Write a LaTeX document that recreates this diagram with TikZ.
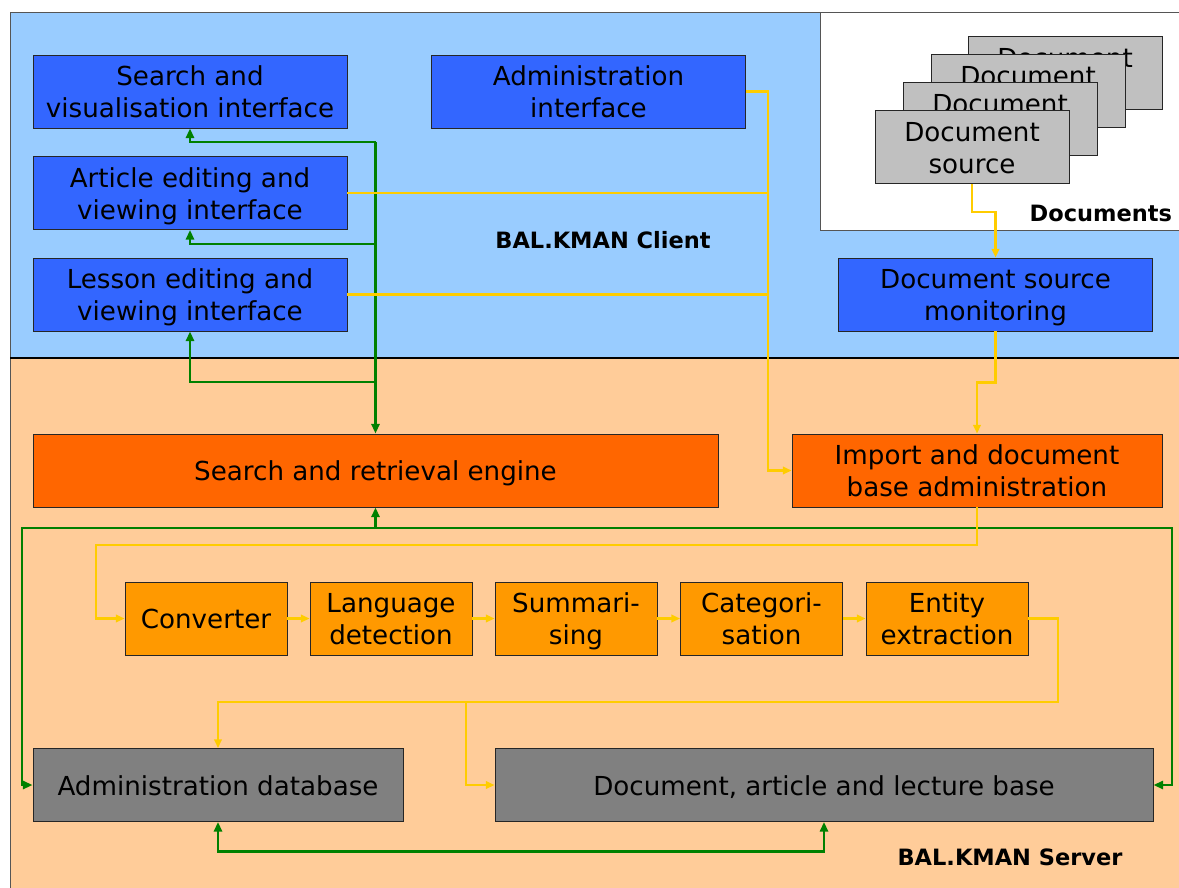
\documentclass[tikz,border=0pt]{standalone}
\usepackage{fontspec}
\setmainfont{DejaVu Sans}
\usetikzlibrary{arrows.meta, positioning, calc}
\definecolor{clientbg}{HTML}{99CCFF}
\definecolor{serverbg}{HTML}{FFCC99}
\definecolor{ifblue}{HTML}{3366FF}
\definecolor{engorange}{HTML}{FF6600}
\definecolor{procorange}{HTML}{FF9900}
\definecolor{dbgray}{HTML}{808080}
\definecolor{docgray}{HTML}{C0C0C0}
\definecolor{flowgreen}{HTML}{008000}
\definecolor{flowyellow}{HTML}{FFCC00}
\definecolor{zoneframe}{HTML}{555555}
% line strut: same height and depth for every text line in the boxes
\newcommand{\lstrut}{\rule[-4.2pt]{0pt}{23pt}}

\begin{document}
\begin{tikzpicture}[
		x=0.25mm, y=-0.25mm,
		box/.style={rectangle, draw=black!85, line width=0.6pt, align=center, inner sep=0pt,
			font=\fontsize{18.6}{23}\selectfont},
		ifbox/.style={box, fill=ifblue, minimum width=78.5mm, minimum height=18.25mm},
		engbox/.style={box, fill=engorange, minimum height=18.25mm},
		procbox/.style={box, fill=procorange, minimum width=40.5mm, minimum height=18.25mm},
		dbbox/.style={box, fill=dbgray, minimum height=18.25mm},
		docbox/.style={box, fill=docgray, minimum width=48.5mm, minimum height=18.25mm},
		zone/.style={draw=zoneframe, line width=0.7pt},
		zonelabel/.style={font=\fontsize{16}{19}\selectfont\bfseries},
		gline/.style={draw=flowgreen, line width=2.1pt, -{Triangle[length=2.4mm, width=2mm]}},
		yline/.style={draw=flowyellow, line width=1.6pt, -{Triangle[length=2.2mm, width=1.9mm]}},
		yplain/.style={draw=flowyellow, line width=1.6pt}
		]
		\useasboundingbox (0,0) rectangle (1179,887);
		\clip (0,0) rectangle (1179,887);
		
		% --- Zones ---
		\draw[zone, fill=clientbg] (10,12) rectangle (1190,358);
		\draw[zone, fill=white] (820,12) rectangle (1190,230);
		\draw[zone, fill=serverbg] (10,358) rectangle (1190,900);
		\draw[black, line width=0.8pt] (10,358) -- (1190,358);
		
		\node[zonelabel] (clientlbl) at (603,240) {BAL.KMAN Client};
		\node[zonelabel] (serverlbl) at (1010,857) {BAL.KMAN Server};
		\node[zonelabel, anchor=east] (doclbl) at (1177,213) {Documents};
		
		% --- Client interfaces ---
		\node[ifbox] (search) at (190,91.5) {\lstrut Search and\\\lstrut visualisation interface};
		\node[ifbox] (adminif) at (588.5,91.5) {\lstrut Administration\\\lstrut interface};
		\node[ifbox] (article) at (190,193) {\lstrut Article editing and\\\lstrut viewing interface};
		\node[ifbox] (lesson) at (190,294.5) {\lstrut Lesson editing and\\\lstrut viewing interface};
		\node[ifbox] (monitor) at (995.5,294.5) {\lstrut Document source\\\lstrut monitoring};
		
		% --- Document sources (back to front, only the top line shows behind) ---
		\node[docbox] (doc4) at (1065,73) {\lstrut Document\\\lstrut\phantom{source}};
		\node[docbox] (doc3) at (1028,91) {\lstrut Document\\\lstrut\phantom{source}};
		\node[docbox] (doc2) at (1000,119) {\lstrut Document\\\lstrut\phantom{source}};
		\node[docbox] (docsrc) at (972,147) {\lstrut Document\\\lstrut source};
		
		% --- Server engines ---
		\node[engbox, minimum width=171.25mm] (engine) at (375.5,470.5) {\lstrut Search and retrieval engine};
		\node[engbox, minimum width=92.5mm] (import) at (977,470.5) {\lstrut Import and document\\\lstrut base administration};
		
		% --- Processing chain ---
		\node[procbox] (conv) at (206,618.5) {\lstrut Converter};
		\node[procbox] (lang) at (391,618.5) {\lstrut Language\\\lstrut detection};
		\node[procbox] (summ) at (576,618.5) {\lstrut Summari-\\\lstrut sing};
		\node[procbox] (categ) at (761.5,618.5) {\lstrut Categori-\\\lstrut sation};
		\node[procbox] (entity) at (947,618.5) {\lstrut Entity\\\lstrut extraction};
		
		% --- Databases ---
		\node[dbbox, minimum width=92.5mm] (admindb) at (218,785) {\lstrut Administration database};
		\node[dbbox, minimum width=164.5mm] (docbase) at (824,785) {\lstrut Document, article and lecture base};
		
		% --- Helper points for the buses ---
		\coordinate (gtop) at (375.5,142);
		\coordinate (gart) at (375.5,244);
		\coordinate (gles) at (375.5,382);
		\coordinate (gbusL) at (22,528);
		\coordinate (gbusR) at (1172,528);
		\coordinate (ydrop) at (768,470.5);
		\coordinate (yleft) at (96,545);
		\coordinate (yright) at (1058,702);
		\coordinate (ysplit) at (466,702);
		
		% --- Green: engine to client interfaces ---
		\draw[gline] (gtop) -- (engine.north);
		\draw[gline] (gtop) -| (search.south);
		\draw[gline] (gart) -| (article.south);
		\draw[gline] (gles) -| (lesson.south);
		
		% --- Green: engine and databases ---
		\draw[gline] (engine.south |- gbusL) -- (engine.south);
		\draw[gline] (gbusR) -- (gbusL) |- (admindb.west);
		\draw[gline] (gbusL) -- (gbusR) |- (docbase.east);
		\draw[gline, {Triangle[length=2.4mm, width=2mm]}-{Triangle[length=2.4mm, width=2mm]}] (admindb.south) -- ++(0,30) -| (docbase.south);
		
		% --- Yellow: client to import ---
		\draw[yline] (adminif.east) -| (ydrop) -- (import.west);
		\draw[yplain] (article.east) -- (article.east -| ydrop);
		\draw[yplain] (lesson.east) -- (lesson.east -| ydrop);
		
		% --- Yellow: document sources to import ---
		\draw[yline] (docsrc.south) -- ++(0,28) -| (monitor.north);
		\draw[yline] (monitor.south) -- ++(0,51) -| (import.north);
		
		% --- Yellow: import through the chain ---
		\draw[yline] (import.south) |- (yleft) |- (conv.west);
		\draw[yline] (conv) -- (lang);
		\draw[yline] (lang) -- (summ);
		\draw[yline] (summ) -- (categ);
		\draw[yline] (categ) -- (entity);
		\draw[yline] (entity.east) -| (yright) -| (admindb.north);
		\draw[yline] (ysplit) |- (docbase.west);
		
	\end{tikzpicture}
\end{document}
